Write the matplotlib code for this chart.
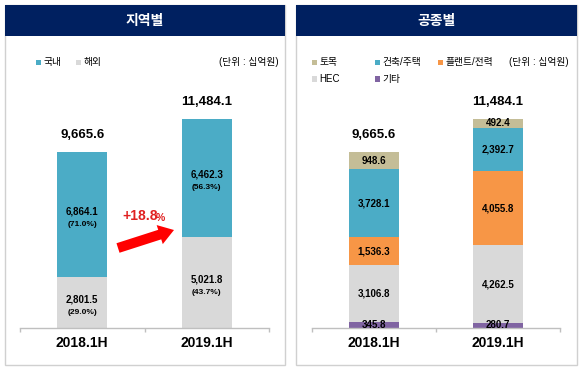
import matplotlib
matplotlib.use("Agg")
import matplotlib.pyplot as plt
from matplotlib.patches import Rectangle, Polygon
import numpy as np

# ---------------- data ----------------
periods = ["2018.1H", "2019.1H"]
totals = [9665.6, 11484.1]

region_names = ["국내", "해외"]
domestic = [6864.1, 6462.3]
overseas = [2801.5, 5021.8]
domestic_pct = ["(71.0%)", "(56.3%)"]
overseas_pct = ["(29.0%)", "(43.7%)"]
growth_label = "+18.8"

type_names = ["토목", "건축/주택", "플랜트/전력", "HEC", "기타"]
civil = [948.6, 492.4]
building = [3728.1, 2392.7]
plant = [1536.3, 4055.8]
hec = [3106.8, 4262.5]
other = [345.8, 280.7]

unit_label = "(단위 : 십억원)"
titles = ["지역별", "공종별"]

# ---------------- style ----------------
W, H = 580, 369
DPI = 100
C_BLUE = "#4BACC6"
C_GRAY = "#D9D9D9"
C_ORANGE = "#F79646"
C_TAN = "#C4BD97"
C_PURPLE = "#8064A2"
C_NAVY = "#002060"
FAM = ["Liberation Sans", "Noto Sans CJK KR", "DejaVu Sans"]
plt.rcParams["font.family"] = FAM

fig = plt.figure(figsize=(W / DPI, H / DPI), dpi=DPI)


def fx(x):
    return x / W


def fy(y):
    return 1 - y / H


def ftext(x, y, s, **kw):
    kw.setdefault("family", FAM)
    kw.setdefault("zorder", 5)
    fig.text(fx(x), fy(y), s, **kw)


def frect(x0, y0, x1, y1, zorder=-5, **kw):
    r = Rectangle((fx(x0), fy(y1)), fx(x1) - fx(x0), fy(y0) - fy(y1),
                  transform=fig.transFigure, zorder=zorder, **kw)
    fig.add_artist(r)


# panels
for (x0, x1), title in zip([(5, 285), (296, 577)], titles):
    frect(x0, 5, x1, 365, facecolor="white", edgecolor="#D0D0D0", linewidth=1.0,
          zorder=-10)
    frect(x0, 5, x1, 36, facecolor=C_NAVY, edgecolor="none", zorder=-9)
    ftext((x0 + x1) / 2, 21, title, color="white", fontsize=10,
          fontweight="bold", ha="center", va="center")

# ---------------- axes ----------------
YMAX = 14000
base_y = 328
height_px = YMAX * 176 / 9665.6


def make_ax(x0, x1):
    ax = fig.add_axes([fx(x0), fy(base_y), fx(x1) - fx(x0), height_px / H])
    ax.set_zorder(2)
    ax.set_xlim(-0.5, 1.5)
    ax.set_ylim(0, YMAX)
    for s in ["left", "right", "top"]:
        ax.spines[s].set_visible(False)
    ax.spines["bottom"].set_color("#BFBFBF")
    ax.spines["bottom"].set_linewidth(1.0)
    ax.set_yticks([])
    ax.set_xticks([-0.5, 0.5, 1.5], minor=True)
    ax.tick_params(axis="x", which="minor", length=3, color="#BFBFBF", width=1)
    ax.set_xticks([0, 1])
    ax.set_xticklabels(periods, fontsize=10, fontweight="bold")
    ax.tick_params(axis="x", which="major", length=0, pad=6)
    ax.patch.set_alpha(0)
    return ax


x = np.arange(len(periods))
bw = 0.4

# left: region
axL = make_ax(20, 269)
axL.bar(x, overseas, bw, color=C_GRAY)
axL.bar(x, domestic, bw, bottom=overseas, color=C_BLUE)
for i in range(len(periods)):
    axL.annotate(f"{totals[i]:,.1f}", (x[i], totals[i]), xytext=(0, 8),
                 textcoords="offset points", ha="center", va="bottom",
                 fontsize=9.5, fontweight="bold")
    for bot, val, pct in [(0, overseas[i], overseas_pct[i]),
                          (overseas[i], domestic[i], domestic_pct[i])]:
        c = bot + val / 2
        axL.annotate(f"{val:,.1f}", (x[i], c), xytext=(0, 2),
                     textcoords="offset points", ha="center", va="center",
                     fontsize=7, fontweight="bold")
        axL.annotate(pct, (x[i], c), xytext=(0, -7),
                     textcoords="offset points", ha="center", va="center",
                     fontsize=6, fontweight="bold")

# right: type
axR = make_ax(312, 560)
stack = [(other, C_PURPLE), (hec, C_GRAY), (plant, C_ORANGE),
         (building, C_BLUE), (civil, C_TAN)]
bottom = np.zeros(len(periods))
for vals, col in stack:
    axR.bar(x, vals, bw, bottom=bottom, color=col)
    for i in range(len(periods)):
        axR.text(x[i], bottom[i] + vals[i] / 2, f"{vals[i]:,.1f}",
                 ha="center", va="center", fontsize=7, fontweight="bold")
    bottom = bottom + np.array(vals)
for i in range(len(periods)):
    axR.annotate(f"{totals[i]:,.1f}", (x[i], totals[i]), xytext=(0, 8),
                 textcoords="offset points", ha="center", va="bottom",
                 fontsize=9.5, fontweight="bold")

# ---------------- legends ----------------
def legend_item(x, y, color, label):
    frect(x, y - 2.5, x + 5, y + 2.5, facecolor=color, edgecolor="none", zorder=5)
    ftext(x + 7, y, label, fontsize=7, ha="left", va="center")


legend_item(36, 62, C_BLUE, region_names[0])
legend_item(76, 62, C_GRAY, region_names[1])
ftext(279, 62, unit_label, fontsize=7, ha="right", va="center")

r_pos = [(312, 62), (375, 62), (438, 62), (312, 79), (375, 79)]
r_cols = [C_TAN, C_BLUE, C_ORANGE, C_GRAY, C_PURPLE]
for (px, py), col, name in zip(r_pos, r_cols, type_names):
    legend_item(px, py, col, name)
ftext(569, 62, unit_label, fontsize=7, ha="right", va="center")

# ---------------- growth arrow ----------------
tail = np.array([118.0, 248.0])
tip = np.array([174.0, 230.0])
d = tip - tail
L = np.hypot(*d)
u = d / L
n = np.array([-u[1], u[0]])
body_w, head_w, head_l = 10.0, 20.0, 15.0
hb = tip - u * head_l
pts = [tail + n * body_w / 2, hb + n * body_w / 2, hb + n * head_w / 2, tip,
       hb - n * head_w / 2, hb - n * body_w / 2, tail - n * body_w / 2]
fig.add_artist(Polygon([(fx(p[0]), fy(p[1])) for p in pts], closed=True,
                       transform=fig.transFigure, facecolor="#FF0000",
                       edgecolor="none", zorder=5))
ftext(122, 216, growth_label, fontsize=10, fontweight="bold", color="#E02020",
      ha="left", va="center")
ftext(156, 217.5, "%", fontsize=7.5, fontweight="bold", color="#E02020",
      ha="left", va="center")

fig.savefig("out.png", dpi=DPI)
